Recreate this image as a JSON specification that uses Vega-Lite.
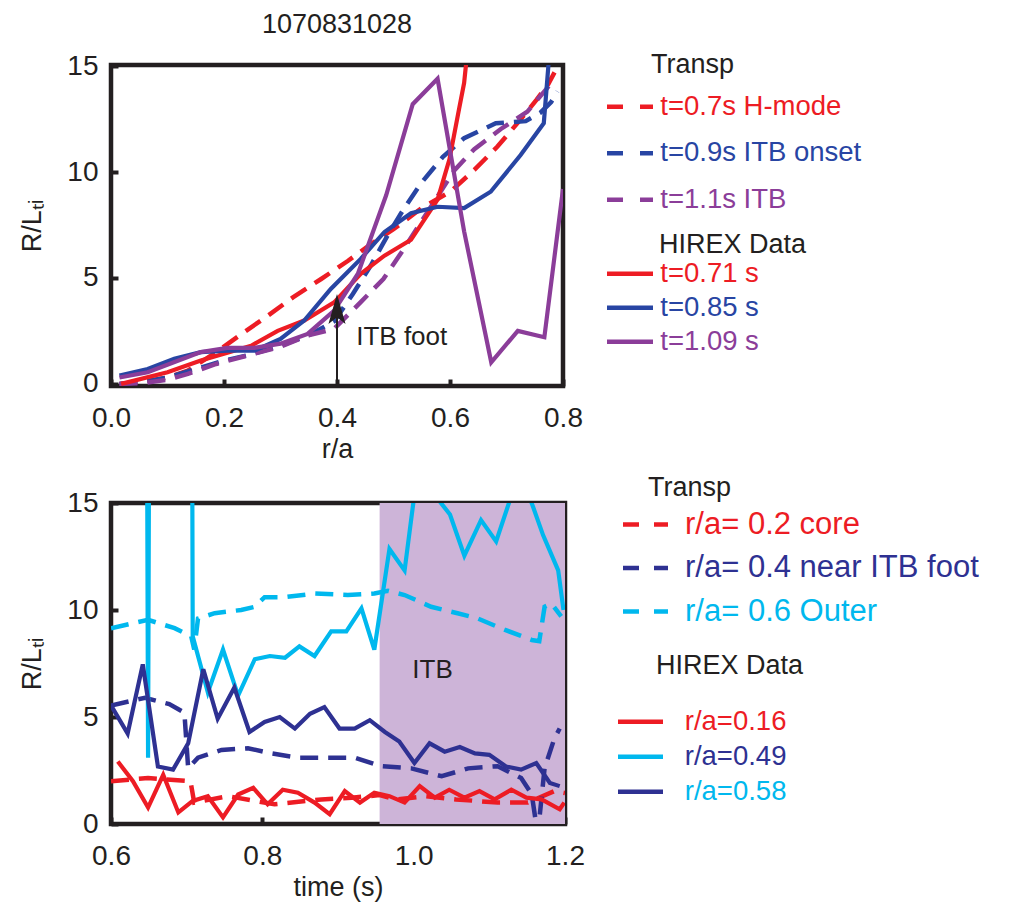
{
  "$schema": "https://vega.github.io/schema/vega-lite/v6.json",
  "padding": {"left": 16, "top": 8, "right": 5, "bottom": 5},
  "background": "white",
  "spacing": 7,
  "datasets": {
    "topTransp": [
      {"s": "t=0.7s H-mode", "x": 0.015, "y": 0}, {"s": "t=0.7s H-mode", "x": 0.06, "y": 0.12}, {"s": "t=0.7s H-mode", "x": 0.1, "y": 0.3}, {"s": "t=0.7s H-mode", "x": 0.136, "y": 0.63}, {"s": "t=0.7s H-mode", "x": 0.186, "y": 1.49}, {"s": "t=0.7s H-mode", "x": 0.227, "y": 2.28}, {"s": "t=0.7s H-mode", "x": 0.274, "y": 3.15}, {"s": "t=0.7s H-mode", "x": 0.322, "y": 4.08}, {"s": "t=0.7s H-mode", "x": 0.372, "y": 4.95}, {"s": "t=0.7s H-mode", "x": 0.419, "y": 5.8}, {"s": "t=0.7s H-mode", "x": 0.46, "y": 6.6}, {"s": "t=0.7s H-mode", "x": 0.5, "y": 7.3}, {"s": "t=0.7s H-mode", "x": 0.55, "y": 8.3}, {"s": "t=0.7s H-mode", "x": 0.602, "y": 9.1}, {"s": "t=0.7s H-mode", "x": 0.643, "y": 10.1}, {"s": "t=0.7s H-mode", "x": 0.684, "y": 11.2}, {"s": "t=0.7s H-mode", "x": 0.724, "y": 12.45}, {"s": "t=0.7s H-mode", "x": 0.753, "y": 13.4}, {"s": "t=0.7s H-mode", "x": 0.774, "y": 14.15}, {"s": "t=0.7s H-mode", "x": 0.785, "y": 14.7},
      {"s": "t=0.9s ITB onset", "x": 0.015, "y": 0}, {"s": "t=0.9s ITB onset", "x": 0.06, "y": 0.1}, {"s": "t=0.9s ITB onset", "x": 0.1, "y": 0.3}, {"s": "t=0.9s ITB onset", "x": 0.15, "y": 0.7}, {"s": "t=0.9s ITB onset", "x": 0.2, "y": 1.1}, {"s": "t=0.9s ITB onset", "x": 0.25, "y": 1.4}, {"s": "t=0.9s ITB onset", "x": 0.3, "y": 1.8}, {"s": "t=0.9s ITB onset", "x": 0.35, "y": 2.3}, {"s": "t=0.9s ITB onset", "x": 0.395, "y": 2.95}, {"s": "t=0.9s ITB onset", "x": 0.428, "y": 4.24}, {"s": "t=0.9s ITB onset", "x": 0.46, "y": 5.6}, {"s": "t=0.9s ITB onset", "x": 0.491, "y": 7.07}, {"s": "t=0.9s ITB onset", "x": 0.518, "y": 8.25}, {"s": "t=0.9s ITB onset", "x": 0.549, "y": 9.48}, {"s": "t=0.9s ITB onset", "x": 0.587, "y": 10.7}, {"s": "t=0.9s ITB onset", "x": 0.625, "y": 11.6}, {"s": "t=0.9s ITB onset", "x": 0.681, "y": 12.3}, {"s": "t=0.9s ITB onset", "x": 0.734, "y": 12.4}, {"s": "t=0.9s ITB onset", "x": 0.76, "y": 12.8}, {"s": "t=0.9s ITB onset", "x": 0.779, "y": 13.3}, {"s": "t=0.9s ITB onset", "x": 0.79, "y": 13.8},
      {"s": "t=1.1s ITB", "x": 0.015, "y": 0}, {"s": "t=1.1s ITB", "x": 0.06, "y": 0.05}, {"s": "t=1.1s ITB", "x": 0.1, "y": 0.2}, {"s": "t=1.1s ITB", "x": 0.136, "y": 0.47}, {"s": "t=1.1s ITB", "x": 0.186, "y": 0.94}, {"s": "t=1.1s ITB", "x": 0.25, "y": 1.4}, {"s": "t=1.1s ITB", "x": 0.3, "y": 1.75}, {"s": "t=1.1s ITB", "x": 0.348, "y": 2.28}, {"s": "t=1.1s ITB", "x": 0.395, "y": 2.6}, {"s": "t=1.1s ITB", "x": 0.442, "y": 3.86}, {"s": "t=1.1s ITB", "x": 0.482, "y": 4.95}, {"s": "t=1.1s ITB", "x": 0.514, "y": 6.2}, {"s": "t=1.1s ITB", "x": 0.56, "y": 8.1}, {"s": "t=1.1s ITB", "x": 0.608, "y": 10.09}, {"s": "t=1.1s ITB", "x": 0.643, "y": 11.08}, {"s": "t=1.1s ITB", "x": 0.69, "y": 12.03}, {"s": "t=1.1s ITB", "x": 0.737, "y": 12.85}, {"s": "t=1.1s ITB", "x": 0.77, "y": 13.9}, {"s": "t=1.1s ITB", "x": 0.785, "y": 14.4}
    ],
    "topHirex": [
      {"s": "t=0.71 s", "x": 0.018, "y": 0}, {"s": "t=0.71 s", "x": 0.1, "y": 0.55}, {"s": "t=0.71 s", "x": 0.159, "y": 1.1}, {"s": "t=0.71 s", "x": 0.248, "y": 1.8}, {"s": "t=0.71 s", "x": 0.295, "y": 2.5}, {"s": "t=0.71 s", "x": 0.342, "y": 2.99}, {"s": "t=0.71 s", "x": 0.395, "y": 3.85}, {"s": "t=0.71 s", "x": 0.442, "y": 5.2}, {"s": "t=0.71 s", "x": 0.484, "y": 6.05}, {"s": "t=0.71 s", "x": 0.531, "y": 6.8}, {"s": "t=0.71 s", "x": 0.578, "y": 8.7}, {"s": "t=0.71 s", "x": 0.599, "y": 10.6}, {"s": "t=0.71 s", "x": 0.616, "y": 12.97}, {"s": "t=0.71 s", "x": 0.625, "y": 14.2}, {"s": "t=0.71 s", "x": 0.63, "y": 15.5},
      {"s": "t=0.85 s", "x": 0.015, "y": 0.39}, {"s": "t=0.85 s", "x": 0.065, "y": 0.7}, {"s": "t=0.85 s", "x": 0.112, "y": 1.18}, {"s": "t=0.85 s", "x": 0.159, "y": 1.5}, {"s": "t=0.85 s", "x": 0.206, "y": 1.57}, {"s": "t=0.85 s", "x": 0.254, "y": 1.57}, {"s": "t=0.85 s", "x": 0.3, "y": 2.12}, {"s": "t=0.85 s", "x": 0.342, "y": 2.99}, {"s": "t=0.85 s", "x": 0.389, "y": 4.48}, {"s": "t=0.85 s", "x": 0.442, "y": 5.9}, {"s": "t=0.85 s", "x": 0.484, "y": 7.17}, {"s": "t=0.85 s", "x": 0.531, "y": 8.05}, {"s": "t=0.85 s", "x": 0.578, "y": 8.36}, {"s": "t=0.85 s", "x": 0.625, "y": 8.3}, {"s": "t=0.85 s", "x": 0.672, "y": 9.07}, {"s": "t=0.85 s", "x": 0.725, "y": 10.8}, {"s": "t=0.85 s", "x": 0.766, "y": 12.3}, {"s": "t=0.85 s", "x": 0.775, "y": 15.3},
      {"s": "t=1.09 s", "x": 0.015, "y": 0.3}, {"s": "t=1.09 s", "x": 0.065, "y": 0.55}, {"s": "t=1.09 s", "x": 0.159, "y": 1.5}, {"s": "t=1.09 s", "x": 0.206, "y": 1.7}, {"s": "t=1.09 s", "x": 0.254, "y": 1.7}, {"s": "t=1.09 s", "x": 0.3, "y": 1.9}, {"s": "t=1.09 s", "x": 0.348, "y": 2.36}, {"s": "t=1.09 s", "x": 0.395, "y": 3.46}, {"s": "t=1.09 s", "x": 0.437, "y": 5.2}, {"s": "t=1.09 s", "x": 0.487, "y": 8.9}, {"s": "t=1.09 s", "x": 0.534, "y": 13.2}, {"s": "t=1.09 s", "x": 0.578, "y": 14.4}, {"s": "t=1.09 s", "x": 0.625, "y": 7.2}, {"s": "t=1.09 s", "x": 0.673, "y": 1.02}, {"s": "t=1.09 s", "x": 0.72, "y": 2.5}, {"s": "t=1.09 s", "x": 0.767, "y": 2.2}, {"s": "t=1.09 s", "x": 0.8, "y": 9.2}
    ],
    "topArrow": [{"x": 0.4, "y": 0, "y2": 3.6}],
    "topHead": [{"x": 0.4, "y": 3.54}],
    "topText": [{"x": 0.434, "y": 2.2, "t": "ITB foot"}],
    "botTransp": [
      {"s": "r/a= 0.2 core", "x": 0.6, "y": 2.0}, {"s": "r/a= 0.2 core", "x": 0.649, "y": 2.15}, {"s": "r/a= 0.2 core", "x": 0.705, "y": 2.0}, {"s": "r/a= 0.2 core", "x": 0.71, "y": 1.0}, {"s": "r/a= 0.2 core", "x": 0.755, "y": 1.3}, {"s": "r/a= 0.2 core", "x": 0.816, "y": 0.92}, {"s": "r/a= 0.2 core", "x": 0.878, "y": 1.15}, {"s": "r/a= 0.2 core", "x": 0.918, "y": 1.23}, {"s": "r/a= 0.2 core", "x": 0.955, "y": 1.35}, {"s": "r/a= 0.2 core", "x": 0.977, "y": 1.15}, {"s": "r/a= 0.2 core", "x": 1.015, "y": 1.3}, {"s": "r/a= 0.2 core", "x": 1.056, "y": 1.15}, {"s": "r/a= 0.2 core", "x": 1.111, "y": 1.0}, {"s": "r/a= 0.2 core", "x": 1.151, "y": 1.0}, {"s": "r/a= 0.2 core", "x": 1.186, "y": 1.54}, {"s": "r/a= 0.2 core", "x": 1.2, "y": 1.45},
      {"s": "r/a= 0.4 near ITB foot", "x": 0.6, "y": 5.54}, {"s": "r/a= 0.4 near ITB foot", "x": 0.645, "y": 5.9}, {"s": "r/a= 0.4 near ITB foot", "x": 0.677, "y": 5.6}, {"s": "r/a= 0.4 near ITB foot", "x": 0.697, "y": 5.2}, {"s": "r/a= 0.4 near ITB foot", "x": 0.702, "y": 2.6}, {"s": "r/a= 0.4 near ITB foot", "x": 0.715, "y": 3.1}, {"s": "r/a= 0.4 near ITB foot", "x": 0.746, "y": 3.46}, {"s": "r/a= 0.4 near ITB foot", "x": 0.781, "y": 3.54}, {"s": "r/a= 0.4 near ITB foot", "x": 0.812, "y": 3.3}, {"s": "r/a= 0.4 near ITB foot", "x": 0.847, "y": 3.1}, {"s": "r/a= 0.4 near ITB foot", "x": 0.882, "y": 3.1}, {"s": "r/a= 0.4 near ITB foot", "x": 0.922, "y": 3.1}, {"s": "r/a= 0.4 near ITB foot", "x": 0.957, "y": 2.7}, {"s": "r/a= 0.4 near ITB foot", "x": 0.997, "y": 2.6}, {"s": "r/a= 0.4 near ITB foot", "x": 1.037, "y": 2.23}, {"s": "r/a= 0.4 near ITB foot", "x": 1.072, "y": 2.6}, {"s": "r/a= 0.4 near ITB foot", "x": 1.111, "y": 2.7}, {"s": "r/a= 0.4 near ITB foot", "x": 1.142, "y": 2.15}, {"s": "r/a= 0.4 near ITB foot", "x": 1.156, "y": 1.4}, {"s": "r/a= 0.4 near ITB foot", "x": 1.164, "y": -0.5}, {"s": "r/a= 0.4 near ITB foot", "x": 1.173, "y": 2.6}, {"s": "r/a= 0.4 near ITB foot", "x": 1.186, "y": 4.0}, {"s": "r/a= 0.4 near ITB foot", "x": 1.193, "y": 4.46},
      {"s": "r/a= 0.6 Outer", "x": 0.6, "y": 9.15}, {"s": "r/a= 0.6 Outer", "x": 0.649, "y": 9.54}, {"s": "r/a= 0.6 Outer", "x": 0.684, "y": 9.15}, {"s": "r/a= 0.6 Outer", "x": 0.706, "y": 8.77}, {"s": "r/a= 0.6 Outer", "x": 0.71, "y": 8.15}, {"s": "r/a= 0.6 Outer", "x": 0.715, "y": 9.6}, {"s": "r/a= 0.6 Outer", "x": 0.737, "y": 9.85}, {"s": "r/a= 0.6 Outer", "x": 0.772, "y": 10.0}, {"s": "r/a= 0.6 Outer", "x": 0.79, "y": 10.15}, {"s": "r/a= 0.6 Outer", "x": 0.803, "y": 10.6}, {"s": "r/a= 0.6 Outer", "x": 0.83, "y": 10.6}, {"s": "r/a= 0.6 Outer", "x": 0.869, "y": 10.77}, {"s": "r/a= 0.6 Outer", "x": 0.913, "y": 10.7}, {"s": "r/a= 0.6 Outer", "x": 0.948, "y": 10.77}, {"s": "r/a= 0.6 Outer", "x": 0.966, "y": 10.9}, {"s": "r/a= 0.6 Outer", "x": 0.988, "y": 10.7}, {"s": "r/a= 0.6 Outer", "x": 1.023, "y": 10.15}, {"s": "r/a= 0.6 Outer", "x": 1.058, "y": 9.85}, {"s": "r/a= 0.6 Outer", "x": 1.085, "y": 9.6}, {"s": "r/a= 0.6 Outer", "x": 1.12, "y": 9.08}, {"s": "r/a= 0.6 Outer", "x": 1.156, "y": 8.6}, {"s": "r/a= 0.6 Outer", "x": 1.166, "y": 8.54}, {"s": "r/a= 0.6 Outer", "x": 1.173, "y": 10.15}, {"s": "r/a= 0.6 Outer", "x": 1.182, "y": 10.3}, {"s": "r/a= 0.6 Outer", "x": 1.195, "y": 9.7}
    ],
    "botHirex": [
      {"s": "r/a=0.16", "x": 0.609, "y": 2.92}, {"s": "r/a=0.16", "x": 0.629, "y": 2.0}, {"s": "r/a=0.16", "x": 0.649, "y": 0.77}, {"s": "r/a=0.16", "x": 0.669, "y": 2.3}, {"s": "r/a=0.16", "x": 0.689, "y": 0.54}, {"s": "r/a=0.16", "x": 0.708, "y": 1.08}, {"s": "r/a=0.16", "x": 0.728, "y": 1.3}, {"s": "r/a=0.16", "x": 0.748, "y": 0.31}, {"s": "r/a=0.16", "x": 0.768, "y": 1.38}, {"s": "r/a=0.16", "x": 0.788, "y": 1.69}, {"s": "r/a=0.16", "x": 0.807, "y": 0.92}, {"s": "r/a=0.16", "x": 0.827, "y": 1.6}, {"s": "r/a=0.16", "x": 0.847, "y": 1.46}, {"s": "r/a=0.16", "x": 0.869, "y": 1.0}, {"s": "r/a=0.16", "x": 0.889, "y": 0.46}, {"s": "r/a=0.16", "x": 0.909, "y": 1.54}, {"s": "r/a=0.16", "x": 0.929, "y": 1.0}, {"s": "r/a=0.16", "x": 0.948, "y": 1.46}, {"s": "r/a=0.16", "x": 0.968, "y": 1.3}, {"s": "r/a=0.16", "x": 0.988, "y": 1.0}, {"s": "r/a=0.16", "x": 1.008, "y": 1.77}, {"s": "r/a=0.16", "x": 1.028, "y": 1.23}, {"s": "r/a=0.16", "x": 1.047, "y": 1.6}, {"s": "r/a=0.16", "x": 1.067, "y": 1.23}, {"s": "r/a=0.16", "x": 1.087, "y": 1.54}, {"s": "r/a=0.16", "x": 1.107, "y": 1.15}, {"s": "r/a=0.16", "x": 1.129, "y": 1.6}, {"s": "r/a=0.16", "x": 1.149, "y": 1.23}, {"s": "r/a=0.16", "x": 1.169, "y": 1.15}, {"s": "r/a=0.16", "x": 1.193, "y": 0.69}, {"s": "r/a=0.16", "x": 1.199, "y": 1.0},
      {"s": "r/a=0.49", "x": 0.6, "y": 60}, {"s": "r/a=0.49", "x": 0.644, "y": 60}, {"s": "r/a=0.49", "x": 0.649, "y": 3.1}, {"s": "r/a=0.49", "x": 0.654, "y": 60}, {"s": "r/a=0.49", "x": 0.704, "y": 60}, {"s": "r/a=0.49", "x": 0.708, "y": 8.77}, {"s": "r/a=0.49", "x": 0.728, "y": 6.15}, {"s": "r/a=0.49", "x": 0.748, "y": 8.15}, {"s": "r/a=0.49", "x": 0.768, "y": 6.0}, {"s": "r/a=0.49", "x": 0.79, "y": 7.7}, {"s": "r/a=0.49", "x": 0.81, "y": 7.85}, {"s": "r/a=0.49", "x": 0.83, "y": 7.77}, {"s": "r/a=0.49", "x": 0.849, "y": 8.3}, {"s": "r/a=0.49", "x": 0.869, "y": 7.85}, {"s": "r/a=0.49", "x": 0.891, "y": 9.0}, {"s": "r/a=0.49", "x": 0.911, "y": 9.0}, {"s": "r/a=0.49", "x": 0.931, "y": 10.08}, {"s": "r/a=0.49", "x": 0.948, "y": 8.15}, {"s": "r/a=0.49", "x": 0.968, "y": 12.85}, {"s": "r/a=0.49", "x": 0.988, "y": 11.85}, {"s": "r/a=0.49", "x": 1.005, "y": 16.5}, {"s": "r/a=0.49", "x": 1.025, "y": 15.5}, {"s": "r/a=0.49", "x": 1.048, "y": 14.46}, {"s": "r/a=0.49", "x": 1.067, "y": 12.54}, {"s": "r/a=0.49", "x": 1.089, "y": 14.2}, {"s": "r/a=0.49", "x": 1.109, "y": 13.2}, {"s": "r/a=0.49", "x": 1.14, "y": 16.5}, {"s": "r/a=0.49", "x": 1.158, "y": 14.8}, {"s": "r/a=0.49", "x": 1.171, "y": 13.5}, {"s": "r/a=0.49", "x": 1.191, "y": 11.85}, {"s": "r/a=0.49", "x": 1.198, "y": 10.0},
      {"s": "r/a=0.58", "x": 0.6, "y": 5.54}, {"s": "r/a=0.58", "x": 0.622, "y": 4.23}, {"s": "r/a=0.58", "x": 0.642, "y": 7.46}, {"s": "r/a=0.58", "x": 0.662, "y": 2.69}, {"s": "r/a=0.58", "x": 0.682, "y": 2.54}, {"s": "r/a=0.58", "x": 0.702, "y": 3.77}, {"s": "r/a=0.58", "x": 0.722, "y": 7.23}, {"s": "r/a=0.58", "x": 0.741, "y": 4.92}, {"s": "r/a=0.58", "x": 0.763, "y": 6.38}, {"s": "r/a=0.58", "x": 0.783, "y": 4.3}, {"s": "r/a=0.58", "x": 0.803, "y": 4.77}, {"s": "r/a=0.58", "x": 0.823, "y": 5.0}, {"s": "r/a=0.58", "x": 0.843, "y": 4.46}, {"s": "r/a=0.58", "x": 0.863, "y": 5.15}, {"s": "r/a=0.58", "x": 0.882, "y": 5.46}, {"s": "r/a=0.58", "x": 0.902, "y": 4.46}, {"s": "r/a=0.58", "x": 0.922, "y": 4.46}, {"s": "r/a=0.58", "x": 0.942, "y": 4.85}, {"s": "r/a=0.58", "x": 0.962, "y": 4.3}, {"s": "r/a=0.58", "x": 0.981, "y": 3.85}, {"s": "r/a=0.58", "x": 1.001, "y": 2.85}, {"s": "r/a=0.58", "x": 1.021, "y": 3.77}, {"s": "r/a=0.58", "x": 1.041, "y": 3.38}, {"s": "r/a=0.58", "x": 1.061, "y": 3.6}, {"s": "r/a=0.58", "x": 1.081, "y": 3.3}, {"s": "r/a=0.58", "x": 1.1, "y": 3.23}, {"s": "r/a=0.58", "x": 1.122, "y": 2.69}, {"s": "r/a=0.58", "x": 1.142, "y": 2.54}, {"s": "r/a=0.58", "x": 1.162, "y": 2.85}, {"s": "r/a=0.58", "x": 1.18, "y": 1.92}, {"s": "r/a=0.58", "x": 1.193, "y": 1.77}
    ],
    "botBand": [{"x": 0.955, "x2": 1.2}],
    "botText": [{"x": 1.025, "y": 7.2, "t": "ITB"}]
  },
  "vconcat": [
    {
      "title": {"text": "1070831028", "anchor": "middle", "frame": "group", "fontSize": 27, "fontWeight": "normal", "color": "#231F20", "font": "Liberation Sans", "offset": 13},
      "width": 452,
      "height": 321,
      "view": {"stroke": "#231F20", "strokeWidth": 4.5},
      "layer": [
        {
          "data": {"name": "topTransp"},
          "mark": {"type": "line", "strokeDash": [18, 10], "strokeWidth": 4.5, "clip": true},
          "encoding": {
            "x": {"field": "x", "type": "quantitative", "scale": {"domain": [0, 0.8], "nice": false, "zero": false},
                  "axis": {"title": "r/a", "values": [0, 0.2, 0.4, 0.6, 0.8], "format": ".1f"}},
            "y": {"field": "y", "type": "quantitative", "scale": {"domain": [-0.1, 15.05], "nice": false, "zero": false},
                  "axis": {"title": "R/Lₜᵢ", "values": [0, 5, 10, 15], "format": "d"}},
            "color": {"field": "s", "type": "nominal",
                      "scale": {"domain": ["t=0.7s H-mode", "t=0.9s ITB onset", "t=1.1s ITB"], "range": ["#ED1C24", "#2845A3", "#8B3D99"]},
                      "legend": {"title": "Transp", "orient": "none", "legendX": 496, "legendY": -13,
                                 "labelFontSize": 27.5, "titleFontSize": 27, "symbolType": "M-2.3,0H2.3", "symbolSize": 400,
                                 "symbolStrokeWidth": 4.5, "symbolDash": [16, 17], "symbolOffset": 9.25, "labelOffset": 16.5,
                                 "rowPadding": 17.5, "titlePadding": 14,
                                 "encode": {"title": {"update": {"dx": {"value": 44}}},
                                            "labels": {"update": {"fill": {"signal": "datum.index == 0 ? '#ED1C24' : datum.index == 1 ? '#2845A3' : '#8B3D99'"}}}}}}
          }
        },
        {
          "data": {"name": "topHirex"},
          "mark": {"type": "line", "strokeWidth": 4.2, "clip": true},
          "encoding": {
            "x": {"field": "x", "type": "quantitative"},
            "y": {"field": "y", "type": "quantitative"},
            "color": {"field": "s", "type": "nominal",
                      "scale": {"domain": ["t=0.71 s", "t=0.85 s", "t=1.09 s"], "range": ["#ED1C24", "#2845A3", "#8B3D99"]},
                      "legend": {"title": "HIREX Data", "orient": "none", "legendX": 496, "legendY": 167,
                                 "labelFontSize": 27.5, "titleFontSize": 27, "symbolType": "M-2.3,0H2.3", "symbolSize": 400,
                                 "symbolStrokeWidth": 4.5, "symbolDash": [], "symbolOffset": 9.25, "labelOffset": 16.5,
                                 "rowPadding": 5, "titlePadding": 1,
                                 "encode": {"title": {"update": {"dx": {"value": 52}}},
                                            "labels": {"update": {"fill": {"signal": "datum.index == 0 ? '#ED1C24' : datum.index == 1 ? '#2845A3' : '#8B3D99'"}}}}}}
          }
        },
        {
          "data": {"name": "topArrow"},
          "mark": {"type": "rule", "strokeWidth": 2, "color": "#231F20"},
          "encoding": {"x": {"field": "x", "type": "quantitative"}, "y": {"field": "y", "type": "quantitative"}, "y2": {"field": "y2"}}
        },
        {
          "data": {"name": "topHead"},
          "mark": {"type": "point", "shape": "M0,-1L0.57,1L0,0.55L-0.57,1Z", "filled": true, "size": 900, "color": "#231F20", "opacity": 1},
          "encoding": {"x": {"field": "x", "type": "quantitative"}, "y": {"field": "y", "type": "quantitative"}}
        },
        {
          "data": {"name": "topText"},
          "mark": {"type": "text", "align": "left", "baseline": "middle", "fontSize": 26, "color": "#231F20", "font": "Liberation Sans"},
          "encoding": {"x": {"field": "x", "type": "quantitative"}, "y": {"field": "y", "type": "quantitative"}, "text": {"field": "t"}}
        }
      ],
      "resolve": {"scale": {"color": "independent"}}
    },
    {
      "width": 454,
      "height": 321,
      "view": {"stroke": "#231F20", "strokeWidth": 4.5},
      "layer": [
        {
          "data": {"name": "botBand"},
          "mark": {"type": "rect", "color": "#CDB4D8", "opacity": 1},
          "encoding": {
            "x": {"field": "x", "type": "quantitative", "scale": {"domain": [0.6, 1.2], "nice": false, "zero": false},
                  "axis": {"title": "time (s)", "values": [0.6, 0.8, 1.0, 1.2], "format": ".1f"}},
            "x2": {"field": "x2"}
          }
        },
        {
          "data": {"name": "botText"},
          "mark": {"type": "text", "align": "center", "baseline": "middle", "fontSize": 26, "color": "#231F20", "font": "Liberation Sans"},
          "encoding": {"x": {"field": "x", "type": "quantitative"}, "y": {"field": "y", "type": "quantitative"}, "text": {"field": "t"}}
        },
        {
          "data": {"name": "botTransp"},
          "mark": {"type": "line", "strokeDash": [18, 10], "strokeWidth": 4.5, "clip": true},
          "encoding": {
            "x": {"field": "x", "type": "quantitative"},
            "y": {"field": "y", "type": "quantitative", "scale": {"domain": [0, 15], "nice": false, "zero": false},
                  "axis": {"title": "R/Lₜᵢ", "values": [0, 5, 10, 15], "format": "d"}},
            "color": {"field": "s", "type": "nominal",
                      "scale": {"domain": ["r/a= 0.2 core", "r/a= 0.4 near ITB foot", "r/a= 0.6 Outer"], "range": ["#ED1C24", "#2E3192", "#00B8EE"]},
                      "legend": {"title": "Transp", "orient": "none", "legendX": 512, "legendY": -28,
                                 "labelFontSize": 31, "titleFontSize": 27, "symbolType": "M-2.25,0H2.25", "symbolSize": 400,
                                 "symbolStrokeWidth": 4.5, "symbolDash": [16, 15], "symbolOffset": 7, "labelOffset": 24,
                                 "rowPadding": 11.5, "titlePadding": 7,
                                 "encode": {"title": {"update": {"dx": {"value": 25}}},
                                            "labels": {"update": {"fill": {"signal": "datum.index == 0 ? '#ED1C24' : datum.index == 1 ? '#2E3192' : '#00B8EE'"}}}}}}
          }
        },
        {
          "data": {"name": "botHirex"},
          "mark": {"type": "line", "strokeWidth": 4.2, "clip": true},
          "encoding": {
            "x": {"field": "x", "type": "quantitative"},
            "y": {"field": "y", "type": "quantitative"},
            "color": {"field": "s", "type": "nominal",
                      "scale": {"domain": ["r/a=0.16", "r/a=0.49", "r/a=0.58"], "range": ["#ED1C24", "#00B8EE", "#2E3192"]},
                      "legend": {"title": "HIREX Data", "orient": "none", "legendX": 507, "legendY": 150,
                                 "labelFontSize": 27.5, "titleFontSize": 27, "symbolType": "M-2.25,0H2.25", "symbolSize": 400,
                                 "symbolStrokeWidth": 4.5, "symbolDash": [], "symbolOffset": 8.75, "labelOffset": 30.5,
                                 "rowPadding": 6, "titlePadding": 28,
                                 "encode": {"title": {"update": {"dx": {"value": 38}}},
                                            "labels": {"update": {"fill": {"signal": "datum.index == 0 ? '#ED1C24' : datum.index == 1 ? '#2E3192' : '#00B8EE'"}}}}}}
          }
        }
      ],
      "resolve": {"scale": {"color": "independent"}}
    }
  ],
  "config": {
    "font": "Liberation Sans",
    "view": {"stroke": "#231F20", "strokeWidth": 4.5},
    "axis": {"grid": false, "domain": false, "labelFont": "Liberation Sans", "labelFontSize": 28, "labelColor": "#231F20",
             "titleFont": "Liberation Sans", "titleFontSize": 27, "titleFontWeight": "normal", "titleColor": "#231F20",
             "tickColor": "#231F20", "tickWidth": 4, "tickSize": -7, "labelPadding": 20, "labelFlush": false, "labelOverlap": false, "zindex": 1},
    "axisY": {"titlePadding": 20},
    "axisX": {"titlePadding": 4, "labelPadding": 25},
    "legend": {"padding": 0, "labelFont": "Liberation Sans", "titleFont": "Liberation Sans", "titleFontWeight": "normal",
               "titleColor": "#231F20", "labelLimit": 400, "titleLimit": 400}
  }
}
